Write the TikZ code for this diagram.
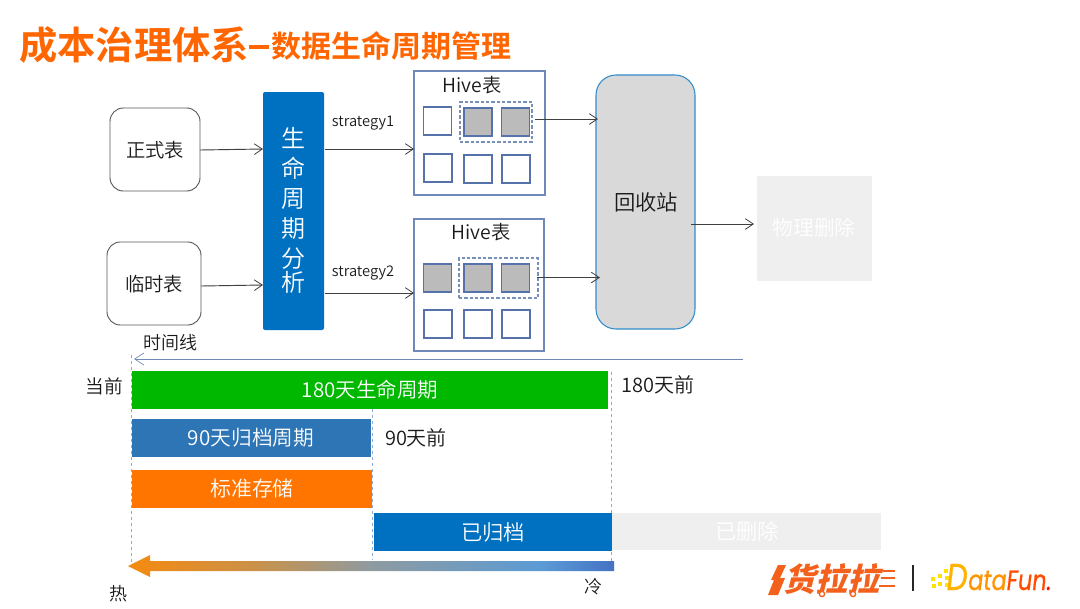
\documentclass[tikz,border=0pt]{standalone}
\usepackage{fontspec}
\setmainfont{Noto Sans CJK SC DemiLight}[BoldFont={Noto Sans CJK SC Bold}]
\newfontfamily\titlefont{Noto Sans CJK SC Bold}
\newfontfamily\logofont[FakeSlant=0.25]{Noto Sans CJK SC Black}
\newfontfamily\dffont[FakeSlant=0.12,FakeStretch=0.8,FakeBold=0.6]{Poppins}
\usetikzlibrary{arrows.meta}
\definecolor{hlblue}{HTML}{0070C0}
\definecolor{frameblue}{HTML}{6F88B8}
\definecolor{sqblue}{HTML}{5573AA}
\definecolor{sqgray}{HTML}{BBBBBB}
\definecolor{pale}{HTML}{EFEFEF}
\definecolor{dashblue}{HTML}{8FAADC}
\definecolor{titleor}{HTML}{FF6600}
\definecolor{inkc}{HTML}{1A1A1A}
\definecolor{logor}{HTML}{F4611C}
\definecolor{bargreen}{HTML}{00B800}
\definecolor{barblue}{HTML}{2E75B6}
\definecolor{barorange}{HTML}{FF7500}
\pgfdeclarehorizontalshading{hotcold}{100bp}{
  color(0bp)=(rgb,255:red,245;green,138;blue,15);
  color(25bp)=(rgb,255:red,245;green,138;blue,15);
  color(37.5bp)=(rgb,255:red,205;green,145;blue,70);
  color(50bp)=(rgb,255:red,142;green,155;blue,160);
  color(67.5bp)=(rgb,255:red,91;green,155;blue,213);
  color(75bp)=(rgb,255:red,68;green,114;blue,196);
  color(100bp)=(rgb,255:red,68;green,114;blue,196)}
\tikzset{
  x=0.75pt,y=-0.75pt,
  sz/.style n args={2}{minimum width=#1*0.75pt,minimum height=#2*0.75pt,inner sep=0pt,outer sep=0pt},
  txt/.style={text=inkc,inner sep=0pt,font=\fontsize{#1}{#1}\selectfont},
  wtxt/.style={text=white,inner sep=0pt,font=\fontsize{#1}{#1}\selectfont},
  srcbox/.style={draw=black!65,line width=0.7pt,fill=white,rounded corners=10pt},
  frame/.style={draw=frameblue,line width=0.85pt,fill=white},
  sqw/.style={draw=sqblue,line width=0.8pt,fill=white,sz={28}{28}},
  sqg/.style={draw=sqblue,line width=0.8pt,fill=sqgray,sz={28}{28}},
  dbox/.style={draw=sqblue!80,line width=0.8pt,dash pattern=on 2.5pt off 1.5pt},
  flow/.style={draw=black!75,line width=0.7pt,-{Straight Barb[length=6pt,width=8pt,line width=0.6pt]}},
  vdash/.style={draw=dashblue,line width=0.75pt,dash pattern=on 2.5pt off 2pt},
}
\begin{document}
\begin{tikzpicture}
\useasboundingbox (0,0) rectangle (1080,608);
\fill[white] (0,0) rectangle (1080,608);

% title
\node[anchor=west,text=titleor,inner sep=0pt,font=\fontsize{28.7}{28.7}\selectfont\titlefont] (t1) at (19,45) {成本治理体系};
\node[anchor=west,text=titleor,inner sep=0pt,font=\fontsize{22.5}{22.5}\selectfont\titlefont] (t2) at (271,46) {数据生命周期管理};
\coordinate (ta) at (249,47); \coordinate (tb) at (269,47);
\draw[titleor,line width=2.4pt] (ta) -- (tb);

% dashed guides
\coordinate (g1a) at (131.5,355); \coordinate (g1b) at (131.5,565);
\coordinate (g2a) at (372.5,409); \coordinate (g2b) at (372.5,560);
\coordinate (g3a) at (611,372);   \coordinate (g3b) at (611,570);
\draw[vdash] (g1a) -- (g1b);
\draw[vdash] (g2a) -- (g2b);
\draw[vdash] (g3a) -- (g3b);

% sources and analysis
\node[srcbox,sz={90}{83}] (formal) at (155,149.5) {};
\node[txt=14.5] (formalT) at (155,150) {正式表};
\node[srcbox,sz={94}{83}] (temp) at (154,283.5) {};
\node[txt=14.5] (tempT) at (154,284) {临时表};
\node[fill=hlblue,rounded corners=1.5pt,sz={61}{238}] (life) at (293.5,211) {};
\node[wtxt=18,align=center,text width=20pt] (lifeT) at (293,210) {\baselineskip=22.5pt 生\\命\\周\\期\\分\\析};

% hive table 1
\node[frame,sz={131}{124}] (h1) at (479.5,133) {};
\node[txt=14.5] (h1T) at (472,85) {Hive表};
\node[dbox,sz={72}{40}] (d1) at (496,122) {};
\node[sqw] (a1) at (437.5,121) {};
\node[sqg] (a2) at (478,122) {};
\node[sqg] (a3) at (515.5,122) {};
\node[sqw] (a4) at (438,168) {};
\node[sqw] (a5) at (478,169) {};
\node[sqw] (a6) at (516,169) {};

% hive table 2
\node[frame,sz={130}{132}] (h2) at (479,285) {};
\node[txt=14.5] (h2T) at (481,232) {Hive表};
\node[dbox,sz={79}{40}] (d2) at (498.5,278) {};
\node[sqg] (b1) at (437.5,278) {};
\node[sqg] (b2) at (478,278) {};
\node[sqg] (b3) at (515.5,278) {};
\node[sqw] (b4) at (438,324) {};
\node[sqw] (b5) at (478,324) {};
\node[sqw] (b6) at (516,324) {};

% recycle
\node[draw=hlblue!80,line width=0.8pt,fill=black!15,rounded corners=15pt,sz={99}{254}] (rec) at (645.5,202) {};
\node[txt=16] (recT) at (646,202) {回收站};
\node[fill=pale,sz={115}{105}] (del) at (814.5,228.5) {};
\node[wtxt=15.5] (delT) at (814,228) {物理删除};

% flows
\draw[flow] (formal.east |- 0,150) -- (life.west |- 0,149);
\draw[flow] (temp.east |- 0,286) -- (life.west |- 0,285);
\coordinate (s1) at (325,149); \coordinate (s2) at (325,293);
\draw[flow] (s1) -- (h1.west |- s1);
\draw[flow] (s2) -- (h2.west |- s2);
\node[txt=11] (st1) at (363,123) {strategy1};
\node[txt=11] (st2) at (363,273) {strategy2};
\coordinate (r1) at (535,119); \coordinate (r2) at (537,277.5); \coordinate (r3) at (691,224);
\draw[flow] (r1) -- (598,119);
\draw[flow] (r2) -- (600,277.5);
\draw[flow] (r3) -- (754,224);

% timeline
\coordinate (tl0) at (743,359); \coordinate (tl1) at (134,359);
\draw[draw=frameblue,line width=0.7pt,-{Straight Barb[length=7pt,width=9pt,line width=0.5pt]}] (tl0) -- (tl1);
\node[txt=13.5] (tlT) at (170,343) {时间线};
\node[txt=14] (now) at (104,386) {当前};

% bars
\node[fill=bargreen,sz={476}{38}] (b180) at (370,390) {};
\node[wtxt=15.4] (b180T) at (370,390) {180天生命周期};
\node[fill=barblue,sz={239}{38}] (b90) at (251.5,438) {};
\node[wtxt=15.5] (b90T) at (251,438) {90天归档周期};
\node[fill=barorange,sz={240}{38}] (bstd) at (252,489) {};
\node[wtxt=15.7] (bstdT) at (252,488.5) {标准存储};
\node[fill=hlblue,sz={238}{38}] (barc) at (493,532) {};
\node[wtxt=16] (barcT) at (493,532) {已归档};
\node[fill=pale,sz={269}{37}] (bdel) at (746.5,531.5) {};
\node[wtxt=16] (bdelT) at (747,531) {已删除};
\node[txt=15] (d180) at (658,385) {180天前};
\node[txt=15] (d90) at (416,438) {90天前};

% hot-cold arrow
\shade[shading=hotcold] (128,566) -- (150,555) -- (150,561) -- (614,561) -- (614,571) -- (150,571) -- (150,577) -- cycle;
\node[txt=13.5] (hot) at (118,594) {热};
\node[txt=13.5] (cold) at (593,587) {冷};

% logos
\node[anchor=west,inner sep=0pt,text=logor,font=\fontsize{24}{24}\selectfont\logofont] (hll) at (783,579) {货拉拉};
\fill[logor] (778,565) -- (786,565) -- (780,578) -- (785,578) -- (778,595) -- (768,595) -- (774,580) -- (771,580) -- cycle;
\foreach \ly/\lx in {571/883,578/881,586/879}{
  \draw[logor,line width=1.2pt] (\lx,\ly) -- (895,\ly);
}
\foreach \wx in {822,853}{
  \draw[logor,line width=1pt,fill=white] (\wx,594) circle (2.6);
}
\coordinate (sepa) at (913,565); \coordinate (sepb) at (913,591);
\draw[black!85,line width=0.9pt] (sepa) -- (sepb);
\foreach \px/\py in {944/569,938/574,945/576,931/577,938/582,945/583,932/584}{
  \fill[yellow!85!orange] (\px,\py) rectangle ++(4,4);
}
\node[anchor=base west,inner sep=0pt,text=orange!60!yellow,font=\fontsize{28}{28}\selectfont\dffont] (dfD) at (945,590) {D};
\node[anchor=base west,inner sep=0pt,font=\fontsize{21}{21}\selectfont\dffont] (dfn) at (967,590)
  {\textcolor{orange!85!yellow}{ata}\textcolor{orange!60!red}{Fun}\textcolor{red!85!orange}{.}};
\end{tikzpicture}
\end{document}
